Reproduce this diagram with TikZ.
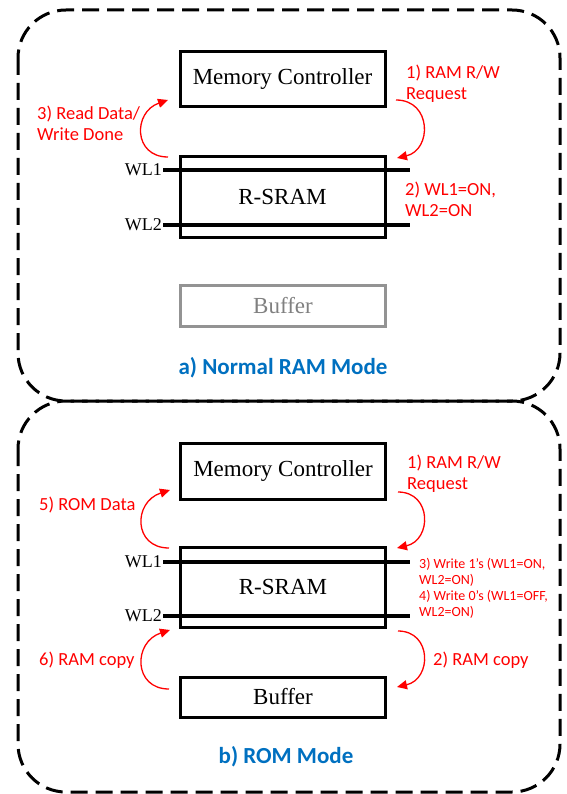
\documentclass[tikz,border=0pt]{standalone}
\usepackage{fontspec}
\setmainfont{Liberation Serif}
\newfontfamily\carlito{Carlito}
\usetikzlibrary{arrows.meta}
\definecolor{titleblue}{RGB}{0,112,192}
\definecolor{bufgray}{RGB}{128,128,128}
\begin{document}
\begin{tikzpicture}[x=1pt,y=-1pt,
 panel/.style={draw, line width=3pt, dash pattern=on 17pt off 8pt, rounded corners=48pt},
 block/.style={draw, line width=3pt, minimum width=205pt, inner sep=0pt, font=\fontsize{23}{26}\selectfont},
 gblock/.style={block, draw=bufgray!85, text=bufgray},
 wline/.style={line width=4pt},
 wlab/.style={anchor=east, inner sep=1pt, font=\fontsize{18}{20}\selectfont},
 note/.style={text=red, anchor=north west, inner sep=0pt, align=left, font=\carlito\fontsize{18.5}{21}\selectfont},
 smallnote/.style={note, font=\carlito\fontsize{14}{16}\selectfont},
 flow/.style={red, line width=1.3pt, -{Triangle[length=10pt,width=9pt]}},
 title/.style={text=titleblue, font=\carlito\bfseries\fontsize{23}{26}\selectfont}
]
\useasboundingbox (0,0) rectangle (566,794);
% panels
\draw[panel] (18,10) rectangle (560,401);
\draw[panel] (18,401) rectangle (560,792);

% ---- a) Normal RAM mode
\node[block, minimum height=55pt] (mcA) at (282.5,79.5) {Memory Controller};
\node[block, minimum height=80pt] (sramA) at (282.5,197) {R-SRAM};
\node[gblock, minimum height=41pt] (bufA) at (283,305.5) {Buffer};
\node[title] (titleA) at (283,368) {a) Normal RAM Mode};

\coordinate (wl1aL) at (163,170); \coordinate (wl1aR) at (410,170);
\coordinate (wl2aL) at (163,225); \coordinate (wl2aR) at (410,225);
\draw[wline] (wl1aL) -- (wl1aR);
\draw[wline] (wl2aL) -- (wl2aR);
\node[wlab] (wl1aT) at (wl1aL) {WL1};
\node[wlab] (wl2aT) at (wl2aL) {WL2};

\node[note] (l1A) at (406,65) {1) RAM R/W\\Request};
\node[note] (l2A) at (405,182) {2) WL1=ON,\\WL2=ON};
\node[note] (l3A) at (37,106) {3) Read Data/\\Write Done};

\coordinate (a1s) at (396,100); \coordinate (a1e) at (397,158);
\draw[flow] (a1s) .. controls (432,100) and (432,150) .. (a1e);
\coordinate (a3s) at (168,157); \coordinate (a3e) at (168,100);
\draw[flow] (a3s) .. controls (133,157) and (133,112) .. (a3e);

% ---- b) ROM mode
\node[block, minimum height=56pt] (mcB) at (283,471) {Memory Controller};
\node[block, minimum height=80pt] (sramB) at (283,587) {R-SRAM};
\node[block, minimum height=40pt] (bufB) at (283,697) {Buffer};
\node[title] (titleB) at (286,757) {b) ROM Mode};

\coordinate (wl1bL) at (163,562); \coordinate (wl1bR) at (410,562);
\coordinate (wl2bL) at (163,616); \coordinate (wl2bR) at (410,616);
\draw[wline] (wl1bL) -- (wl1bR);
\draw[wline] (wl2bL) -- (wl2bR);
\node[wlab] (wl1bT) at (wl1bL) {WL1};
\node[wlab] (wl2bT) at (wl2bL) {WL2};

\node[note] (l1B) at (407,455) {1) RAM R/W\\Request};
\node[note] (l5B) at (39,497) {5) ROM Data};
\node[smallnote] (l3B) at (419,558) {3) Write 1’s (WL1=ON,\\WL2=ON)};
\node[smallnote] (l4B) at (419,590) {4) Write 0’s (WL1=OFF,\\WL2=ON)};
\node[note] (l6B) at (39,652) {6) RAM copy};
\node[note] (l2B) at (433,652) {2) RAM copy};

\coordinate (b1s) at (398,492); \coordinate (b1e) at (397,548);
\draw[flow] (b1s) .. controls (432,492) and (432,540) .. (b1e);
\coordinate (b5s) at (169,548); \coordinate (b5e) at (170,490);
\draw[flow] (b5s) .. controls (133,548) and (133,502) .. (b5e);
\coordinate (b2s) at (398,631); \coordinate (b2e) at (397,687);
\draw[flow] (b2s) .. controls (432,631) and (432,679) .. (b2e);
\coordinate (b6s) at (169,689); \coordinate (b6e) at (170,630);
\draw[flow] (b6s) .. controls (133,689) and (133,642) .. (b6e);
\end{tikzpicture}
\end{document}
